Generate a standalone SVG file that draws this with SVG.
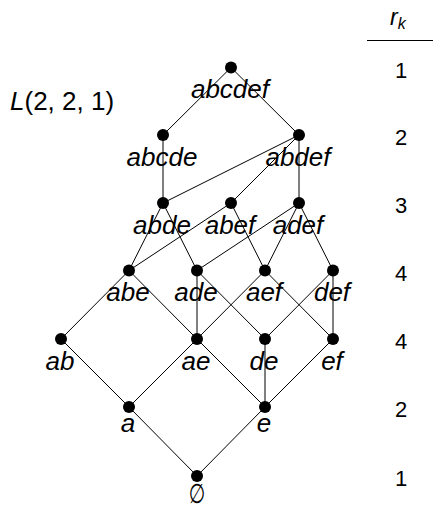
<svg xmlns="http://www.w3.org/2000/svg" width="433" height="509" viewBox="0 0 433 509">
<style>
.e{stroke:#000;stroke-width:1;fill:none}
.d{fill:#000}
.l{font-family:"Liberation Sans",Arial,sans-serif;font-style:italic;font-size:26px;text-anchor:middle;fill:#000}
.n{font-family:"Liberation Sans",Arial,sans-serif;font-size:22px;text-anchor:middle;fill:#000}
.t{font-family:"Liberation Sans",Arial,sans-serif;font-size:26px;fill:#000}
</style>
<rect width="433" height="509" fill="#fff"/>
<g id="connectors">
<line class="e" x1="231" y1="67.5" x2="163" y2="135"/>
<line class="e" x1="231" y1="67.5" x2="299" y2="135"/>
<line class="e" x1="163" y1="135" x2="163" y2="203"/>
<line class="e" x1="299" y1="135" x2="163" y2="203"/>
<line class="e" x1="299" y1="135" x2="231" y2="203"/>
<line class="e" x1="299" y1="135" x2="299" y2="203"/>
<line class="e" x1="163" y1="203" x2="129" y2="270.5"/>
<line class="e" x1="163" y1="203" x2="197" y2="270.5"/>
<line class="e" x1="231" y1="203" x2="129" y2="270.5"/>
<line class="e" x1="231" y1="203" x2="265" y2="270.5"/>
<line class="e" x1="299" y1="203" x2="197" y2="270.5"/>
<line class="e" x1="299" y1="203" x2="265" y2="270.5"/>
<line class="e" x1="299" y1="203" x2="333" y2="270.5"/>
<line class="e" x1="129" y1="270.5" x2="61" y2="339"/>
<line class="e" x1="129" y1="270.5" x2="197" y2="339"/>
<line class="e" x1="197" y1="270.5" x2="197" y2="339"/>
<line class="e" x1="197" y1="270.5" x2="265" y2="339"/>
<line class="e" x1="265" y1="270.5" x2="197" y2="339"/>
<line class="e" x1="265" y1="270.5" x2="333" y2="339"/>
<line class="e" x1="333" y1="270.5" x2="265" y2="339"/>
<line class="e" x1="333" y1="270.5" x2="333" y2="339"/>
<line class="e" x1="61" y1="339" x2="129" y2="407"/>
<line class="e" x1="197" y1="339" x2="129" y2="407"/>
<line class="e" x1="197" y1="339" x2="265" y2="407"/>
<line class="e" x1="265" y1="339" x2="265" y2="407"/>
<line class="e" x1="333" y1="339" x2="265" y2="407"/>
<line class="e" x1="129" y1="407" x2="197" y2="476"/>
<line class="e" x1="265" y1="407" x2="197" y2="476"/>
</g>
<g id="n-abcdef"><circle class="d" cx="231" cy="67.5" r="6"/><text class="l" x="230" y="98">abcdef</text></g>
<g id="n-abcde"><circle class="d" cx="163" cy="135" r="6"/><text class="l" x="162" y="165.5">abcde</text></g>
<g id="n-abdef"><circle class="d" cx="299" cy="135" r="6"/><text class="l" x="298" y="165.5">abdef</text></g>
<g id="n-abde"><circle class="d" cx="163" cy="203" r="6"/><text class="l" x="162" y="233.5">abde</text></g>
<g id="n-abef"><circle class="d" cx="231" cy="203" r="6"/><text class="l" x="230" y="233.5">abef</text></g>
<g id="n-adef"><circle class="d" cx="299" cy="203" r="6"/><text class="l" x="298" y="233.5">adef</text></g>
<g id="n-abe"><circle class="d" cx="129" cy="270.5" r="6"/><text class="l" x="128" y="301">abe</text></g>
<g id="n-ade"><circle class="d" cx="197" cy="270.5" r="6"/><text class="l" x="196" y="301">ade</text></g>
<g id="n-aef"><circle class="d" cx="265" cy="270.5" r="6"/><text class="l" x="264" y="301">aef</text></g>
<g id="n-def"><circle class="d" cx="333" cy="270.5" r="6"/><text class="l" x="332" y="301">def</text></g>
<g id="n-ab"><circle class="d" cx="61" cy="339" r="6"/><text class="l" x="60" y="369.5">ab</text></g>
<g id="n-ae"><circle class="d" cx="197" cy="339" r="6"/><text class="l" x="196" y="369.5">ae</text></g>
<g id="n-de"><circle class="d" cx="265" cy="339" r="6"/><text class="l" x="264" y="369.5">de</text></g>
<g id="n-ef"><circle class="d" cx="333" cy="339" r="6"/><text class="l" x="332" y="369.5">ef</text></g>
<g id="n-a"><circle class="d" cx="129" cy="407" r="6"/><text class="l" x="128" y="432">a</text></g>
<g id="n-e"><circle class="d" cx="265" cy="407" r="6"/><text class="l" x="264" y="432">e</text></g>
<g id="n-empty"><circle class="d" cx="197" cy="476" r="6"/><text class="l" transform="translate(197 503) scale(0.7 1)" x="0" y="0" style="font-family:'DejaVu Sans',sans-serif;font-size:27px;font-style:normal">∅</text></g>
<g id="title"><text class="t" x="10" y="110"><tspan font-style="italic">L</tspan>(2, 2, 1)</text></g>
<g id="rk">
<text class="t" x="390" y="25" style="font-size:23px;font-style:italic">r<tspan font-size="16" dy="4">k</tspan></text>
<line x1="367" y1="40.5" x2="433" y2="40.5" stroke="#000" stroke-width="1"/>
<text class="n" x="401" y="77.5">1</text>
<text class="n" x="401" y="145">2</text>
<text class="n" x="401" y="213">3</text>
<text class="n" x="401" y="280.5">4</text>
<text class="n" x="401" y="349">4</text>
<text class="n" x="401" y="417">2</text>
<text class="n" x="401" y="486">1</text>
</g>
</svg>
